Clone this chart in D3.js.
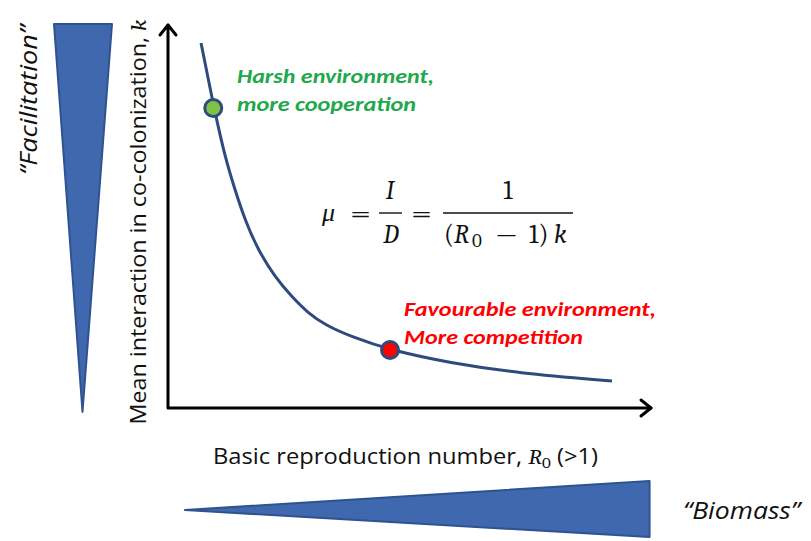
<!DOCTYPE html>
<html>
<head>
<meta charset="utf-8">
<script src="https://cdn.jsdelivr.net/npm/d3@7"></script>
<style>
  html, body { margin: 0; padding: 0; background: #fff; }
  svg { display: block; }
</style>
</head>
<body>
<svg id="chart" width="811" height="541"></svg>
<script>
// ---- data ----
const curveR0 = [1.273, 1.380, 1.471, 1.554, 1.636, 1.744, 1.884, 2.025, 2.157, 2.298, 2.521, 2.835, 3.331, 3.884, 4.669];
const curveK  = [4.753, 3.906, 3.268, 2.839, 2.448, 2.057, 1.706, 1.445, 1.237, 1.081, 0.924, 0.755, 0.586, 0.456, 0.352];
const pointNames = ["harsh", "favourable"];
const pointR0 = [1.374, 2.835];
const pointK  = [3.906, 0.755];
const pointFill = ["#7DC242", "#FF0000"];
const labelLines = [["Harsh environment,", "more cooperation"], ["Favourable environment,", "More competition"]];
const labelColors = ["#21A84A", "#FF0000"];
const xDomain = [1, 5];
const kDomain = [0, 5];

const svg = d3.select("#chart");
const x = d3.scaleLinear().domain(xDomain).range([168, 652]);
const y = d3.scaleLinear().domain(kDomain).range([408, 24]);

const sans = "'Open Sans', 'Noto Sans', sans-serif";
const labelFont = "Carlito, Calibri, 'Open Sans', sans-serif";
const serif = "'Cambria Math', Cambria, 'Liberation Serif', 'DejaVu Serif', serif";
const blue = "#4068AE", blueEdge = "#2F5290", navy = "#2D4B7C";

// ---- wedges ----
svg.append("path")
  .attr("d", d3.line()([[54, y(5)], [112, y(5)], [82.5, y(-0.05)]]) + "Z")
  .attr("fill", blue).attr("stroke", blueEdge).attr("stroke-width", 2).attr("stroke-linejoin", "round");
svg.append("path")
  .attr("d", d3.line()([[x(1.14), 510], [x(4.98), 481], [x(4.98), 537]]) + "Z")
  .attr("fill", blue).attr("stroke", blueEdge).attr("stroke-width", 2).attr("stroke-linejoin", "round");

// ---- axes with arrows ----
const axisG = svg.append("g").attr("stroke", "#000").attr("stroke-width", 3).attr("fill", "none")
  .attr("stroke-linecap", "round").attr("stroke-linejoin", "round");
axisG.append("path").attr("d", d3.line()([[x(xDomain[0]), y(kDomain[1]) + 1], [x(xDomain[0]), y(kDomain[0])], [x(xDomain[1]) - 1, y(kDomain[0])]]));
axisG.append("path").attr("d", d3.line()([[x(xDomain[0]) - 8, y(kDomain[1]) + 11], [x(xDomain[0]), y(kDomain[1]) + 1], [x(xDomain[0]) + 8, y(kDomain[1]) + 11]]));
axisG.append("path").attr("d", d3.line()([[x(xDomain[1]) - 11, y(kDomain[0]) - 8], [x(xDomain[1]) - 1, y(kDomain[0])], [x(xDomain[1]) - 11, y(kDomain[0]) + 8]]));

// ---- curve ----
const pts = curveR0.map((r, i) => [r, curveK[i]]);
svg.append("path")
  .datum(pts)
  .attr("d", d3.line().x(d => x(d[0])).y(d => y(d[1])).curve(d3.curveBasis))
  .attr("fill", "none").attr("stroke", navy).attr("stroke-width", 3);

// ---- highlighted points ----
svg.selectAll("circle.pt").data(pointNames).join("circle")
  .attr("class", "pt")
  .attr("cx", (d, i) => x(pointR0[i])).attr("cy", (d, i) => y(pointK[i]))
  .attr("r", 8.5)
  .attr("fill", (d, i) => pointFill[i]).attr("stroke", navy).attr("stroke-width", 3);

// ---- point labels ----
const labelPos = [[237, 83, 28], [404, 316, 28]];
const labelLen = [[197, 179], [252, 179]];
labelLines.forEach((lines, i) => {
  lines.forEach((ln, j) => {
    svg.append("text")
      .attr("x", labelPos[i][0]).attr("y", labelPos[i][1] + j * labelPos[i][2])
      .attr("font-family", labelFont).attr("font-weight", "bold").attr("font-style", "italic")
      .attr("font-size", 20).attr("fill", labelColors[i])
      .attr("textLength", labelLen[i][j]).attr("lengthAdjust", "spacingAndGlyphs")
      .text(ln);
  });
});

// ---- formula ----
const f = svg.append("g").attr("font-family", serif).attr("font-size", 26).attr("fill", "#111");
f.append("text").attr("x", 322).attr("y", 221).attr("font-style", "italic").text("μ");
f.append("text").attr("x", 350).attr("y", 222).attr("textLength", 21).attr("lengthAdjust", "spacingAndGlyphs").text("=");
f.append("text").attr("x", 390).attr("y", 199).attr("text-anchor", "middle").attr("font-style", "italic").text("I");
f.append("line").attr("x1", 379).attr("x2", 402).attr("y1", 213).attr("y2", 213).attr("stroke", "#111").attr("stroke-width", 1.4);
f.append("text").attr("x", 391).attr("y", 243).attr("text-anchor", "middle").attr("font-style", "italic").text("D");
f.append("text").attr("x", 411).attr("y", 222).attr("textLength", 21).attr("lengthAdjust", "spacingAndGlyphs").text("=");
f.append("text").attr("x", 508).attr("y", 199).attr("text-anchor", "middle").text("1");
f.append("line").attr("x1", 443).attr("x2", 573).attr("y1", 213).attr("y2", 213).attr("stroke", "#111").attr("stroke-width", 1.4);
f.append("text").attr("x", 444).attr("y", 243).text("(");
f.append("text").attr("x", 454).attr("y", 243).attr("font-style", "italic").text("R");
f.append("text").attr("x", 472).attr("y", 247).attr("font-size", 19).text("0");
f.append("text").attr("x", 494).attr("y", 243).attr("textLength", 25).attr("lengthAdjust", "spacingAndGlyphs").text("−");
f.append("text").attr("x", 529).attr("y", 243).text("1)");
f.append("text").attr("x", 554).attr("y", 243).attr("font-style", "italic").text("k");

// ---- axis titles ----
const yl = svg.append("text")
  .attr("transform", "translate(146,222) rotate(-90)")
  .attr("text-anchor", "middle").attr("font-family", sans).attr("font-size", 21).attr("fill", "#111")
  .attr("textLength", 405).attr("lengthAdjust", "spacingAndGlyphs");
yl.append("tspan").text("Mean interaction in co-colonization, ");
yl.append("tspan").attr("font-family", serif).attr("font-style", "italic").text("k");

const xl = svg.append("text")
  .attr("x", 213).attr("y", 464)
  .attr("font-family", sans).attr("font-size", 21).attr("fill", "#111")
  .attr("textLength", 385).attr("lengthAdjust", "spacingAndGlyphs");
xl.append("tspan").text("Basic reproduction number, ");
xl.append("tspan").attr("font-family", serif).attr("font-style", "italic").text("R");
xl.append("tspan").attr("font-family", serif).attr("font-size", 15).attr("dy", 4).text("0");
xl.append("tspan").attr("dy", -4).text(" (>1)");

// ---- wedge titles ----
svg.append("text")
  .attr("transform", "translate(37,100) rotate(-90)")
  .attr("text-anchor", "middle").attr("font-family", sans).attr("font-style", "italic")
  .attr("font-size", 24).attr("fill", "#111")
  .attr("textLength", 150).attr("lengthAdjust", "spacingAndGlyphs").text("“Facilitation”");
svg.append("text")
  .attr("x", 683).attr("y", 519)
  .attr("font-family", sans).attr("font-style", "italic")
  .attr("font-size", 24).attr("fill", "#111")
  .attr("textLength", 117).attr("lengthAdjust", "spacingAndGlyphs").text("“Biomass”");
</script>
</body>
</html>
